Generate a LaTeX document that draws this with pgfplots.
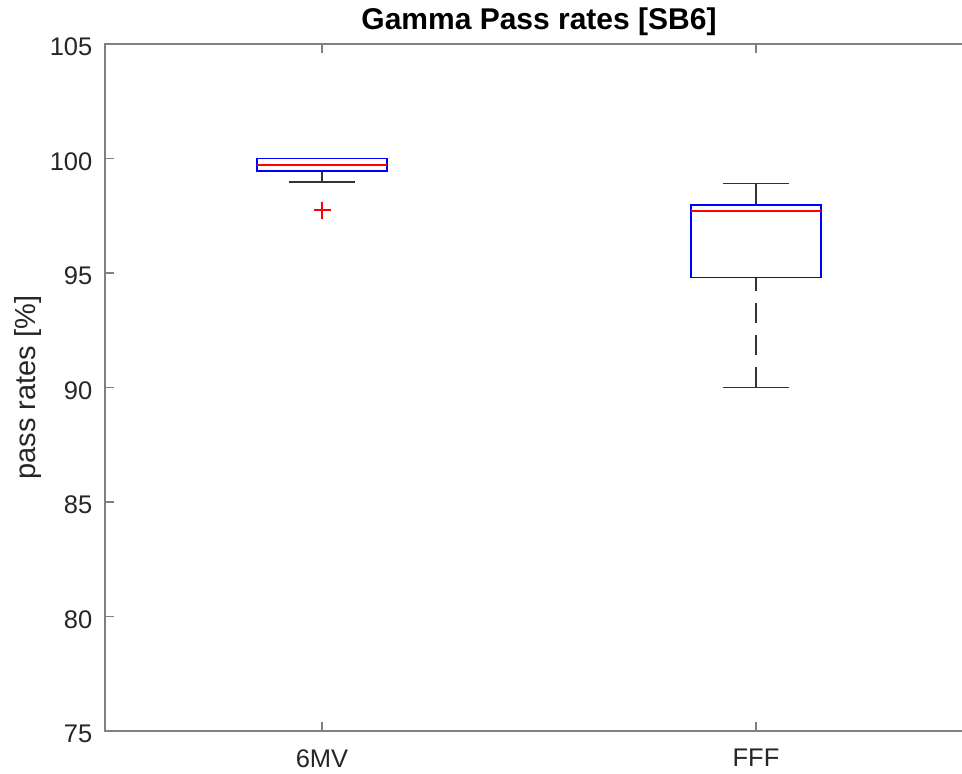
\documentclass[border=0pt]{standalone}
\usepackage{pgfplots}
\pgfplotsset{compat=1.18}
\usepgfplotslibrary{statistics}
\usepackage{fontspec}
\setmainfont{Liberation Sans}
\definecolor{axgray}{gray}{0.5}
\definecolor{txtgray}{gray}{0.15}
\definecolor{whisk}{gray}{0.2}
\begin{document}
\begin{tikzpicture}
  \begin{axis}[
    name=ax,
    scale only axis, width=868pt, height=687pt,
    xmin=0.5, xmax=2.5, ymin=75, ymax=105,
    xtick={1,2}, xticklabels={6MV,FFF},
    ytick={75,80,...,105},
    tick align=inside, major tick length=9pt,
    axis line style={axgray, line width=1.5pt},
    every tick/.style={axgray, line width=1.5pt},
    /pgf/number format/assume math mode=true,
    tick label style={font=\fontsize{25.5}{30}\selectfont, text=txtgray},
    xticklabel style={inner sep=0pt, anchor=north, yshift=-18pt},
    yticklabel style={inner sep=0pt, anchor=east, xshift=-12.5pt, yshift=-3pt},
    title={Gamma Pass rates [SB6]},
    title style={font=\fontsize{30}{34}\selectfont\bfseries, text=black,
      at={(axis description cs:0.5,1)}, anchor=base, yshift=8pt, inner sep=0pt},
    ylabel={pass rates [\%]},
    every axis y label/.style={at={([xshift=-77pt]axis description cs:0,0.5)},
      rotate=90, anchor=center, font=\fontsize{29}{33}\selectfont, text=txtgray},
    boxplot/draw direction=y,
    boxplot/box extend=0.3,
    boxplot/whisker extend=0.15,
    boxplot/every box/.style={draw=blue, line width=1.5pt},
    boxplot/every median/.style={draw=red, line width=1.5pt},
    boxplot/draw/lower whisker/.code={%
      \draw[whisk, line width=1.5pt, dash pattern=on 20pt off 12pt]
        (boxplot cs:\pgfplotsboxplotvalue{lower whisker}) --
        (boxplot cs:\pgfplotsboxplotvalue{lower quartile});
      \draw[whisk, line width=1.5pt]
        (boxplot whisker cs:\pgfplotsboxplotvalue{lower whisker},0) --
        (boxplot whisker cs:\pgfplotsboxplotvalue{lower whisker},1);
    },
    boxplot/draw/upper whisker/.code={%
      \draw[whisk, line width=1.5pt, dash pattern=on 20pt off 12pt]
        (boxplot cs:\pgfplotsboxplotvalue{upper whisker}) --
        (boxplot cs:\pgfplotsboxplotvalue{upper quartile});
      \draw[whisk, line width=1.5pt]
        (boxplot whisker cs:\pgfplotsboxplotvalue{upper whisker},0) --
        (boxplot whisker cs:\pgfplotsboxplotvalue{upper whisker},1);
    },
  ]
  % 6MV
  \addplot[red, mark=+, mark size=8.5pt, mark options={line width=1.5pt},
    boxplot prepared={draw position=1,
      lower whisker=98.97, lower quartile=99.45, median=99.72,
      upper quartile=100.0, upper whisker=100.0}]
    table[row sep=\\, y index=0] {97.75\\};
  % FFF
  \addplot[red, mark=+,
    boxplot prepared={draw position=2,
      lower whisker=90.0, lower quartile=94.8, median=97.7,
      upper quartile=97.98, upper whisker=98.9}]
    coordinates {};
  \end{axis}
  \pgfresetboundingbox
  \path[use as bounding box] ([xshift=-105pt,yshift=-43pt]ax.south west)
    rectangle ([xshift=857pt,yshift=44pt]ax.north west);
\end{tikzpicture}
\end{document}
